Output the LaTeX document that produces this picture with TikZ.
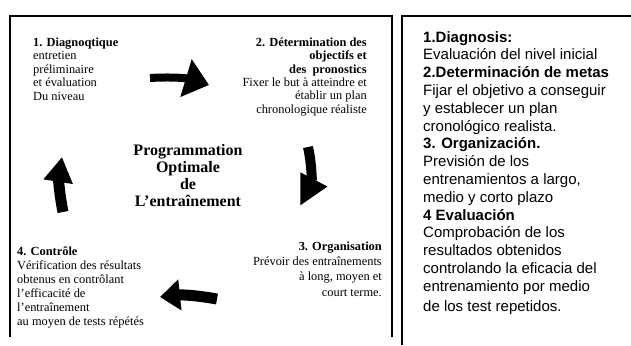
\documentclass[tikz,border=0pt]{standalone}
\usepackage{fontspec}
\setmainfont{Liberation Serif}
\newfontfamily\arialfont{Liberation Sans}
\usetikzlibrary{arrows.meta}

\begin{document}
\begin{tikzpicture}[x=1pt,y=-1pt,
	stage/.style={inner sep=0pt,font=\fontsize{12.4}{13.6}\selectfont},
	title/.style={inner sep=0pt,align=center,font=\fontsize{16}{17.2}\selectfont\bfseries},
	legend/.style={inner sep=0pt,align=left,font=\arialfont\fontsize{15}{17.8}\selectfont},
	bigarrow/.style n args={3}{line width=#1,-{Triangle[length=#2,width=#3]}}]
		\useasboundingbox (0,0) rectangle (631,345);

		\draw[line width=1.2pt] (10,337) -- (10,16) -- (392,16) -- (392,337);
		\draw[line width=1.4pt] (402,345) -- (402,16) -- (631,16);

		\node[stage,anchor=north west,align=left,font=\fontsize{12.4}{13.5}\selectfont] (diag) at (33,37.4) {\textbf{1. Diagnoqtique}\\entretien\\préliminaire\\et évaluation\\Du niveau};

		\node[stage,anchor=north east,align=right,font=\fontsize{12.4}{13.4}\selectfont] (objet) at (367,37.4) {\textbf{2. Détermination des}\\\textbf{objectifs et}\\\textbf{des\ \ pronostics}\\Fixer le but à atteindre et\\établir un plan\\chronologique réaliste};

		\node[stage,anchor=north east,align=right,font=\fontsize{12.4}{15.3}\selectfont] (orga) at (382,241.4) {\textbf{3. Organisation}\\Prévoir des entraînements\\à long, moyen et\\court terme.};

		\node[stage,anchor=north west,align=left,font=\fontsize{12.4}{14}\selectfont] (ctrl) at (17,246.4) {\textbf{4. Contrôle}\\Vérification des résultats\\obtenus en contrôlant\\l’efficacité de\\l’entraînement\\au moyen de tests répétés};

		\node[title,anchor=north] (prog) at (188,144) {Programmation\\Optimale\\de\\L’entraînement};

		\node[legend,anchor=north west] (resumen) at (423,31) {\textbf{1.Diagnosis:}\\Evaluación del nivel inicial\\\textbf{2.Determinación de metas}\\Fijar el objetivo a conseguir\\y establecer un plan\\cronológico realista.\\\textbf{3. Organización.}\\Previsión de los\\entrenamientos a largo,\\medio y corto plazo\\\textbf{4 Evaluación}\\Comprobación de los\\resultados obtenidos\\controlando la eficacia del\\entrenamiento por medio\\[2pt]de los test repetidos.};

		\coordinate (a1s) at (150,78);
		\coordinate (a1e) at (209,85);
		\coordinate (a2s) at (308,147);
		\coordinate (a2e) at (300,206);
		\coordinate (a3s) at (217,299);
		\coordinate (a3e) at (160,297);
		\coordinate (a4s) at (63,212);
		\coordinate (a4e) at (62,157);

		\draw[bigarrow={8pt}{24pt}{38pt}] (a1s) to[bend left=10] (a1e);
		\draw[bigarrow={10pt}{30pt}{28pt}] (a2s) to[bend left=20] (a2e);
		\draw[bigarrow={11pt}{20pt}{30pt}] (a3s) to[bend right=8] (a3e);
		\draw[bigarrow={11pt}{25pt}{28pt}] (a4s) to[bend left=10] (a4e);
	\end{tikzpicture}
\end{document}
